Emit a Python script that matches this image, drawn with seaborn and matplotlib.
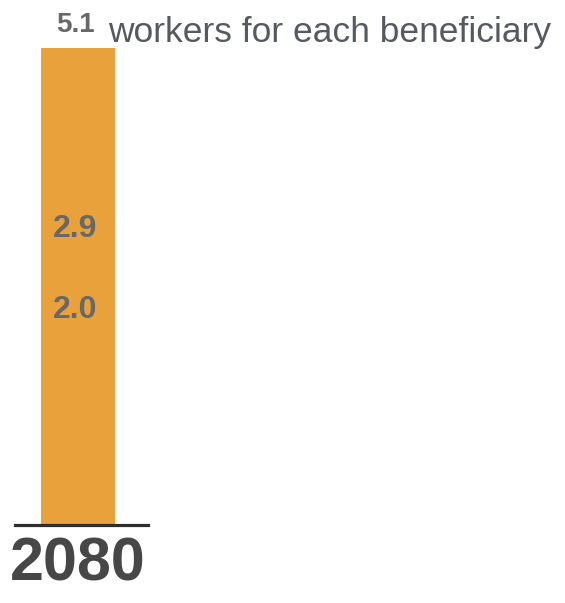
import matplotlib
matplotlib.use("Agg")
import matplotlib.pyplot as plt
import pandas as pd
import seaborn as sns

# workers per beneficiary, bars drawn on top of each other
years = ["1960", "2010", "2030"]
ratios = [5.1, 2.9, 2.0]
year_label = "2080"
caption = "workers for each beneficiary"

orange = "#E9A23B"

df = pd.DataFrame({"grp": ["all"] * len(years), "year": years, "ratio": ratios})

sns.set_style("white")
plt.rcParams['font.family'] = ['Liberation Sans', 'DejaVu Sans']

fig = plt.figure(figsize=(5.65, 6.03), dpi=100)
ax = fig.add_axes([15 / 565, 78 / 603, 133 / 565, 477 / 603])

sns.barplot(data=df, x="grp", y="ratio", hue="year", dodge=False,
            palette=[orange] * len(years), width=0.556, saturation=1,
            linewidth=0, legend=False, ax=ax)

ax.set_xlim(-0.475, 0.525)
ax.set_ylim(0, max(ratios))

# value labels just above each bar top
offsets = [7, 7, 9]
sizes = [20, 23, 23]
for r, off, fs in zip(ratios, offsets, sizes):
    ax.annotate(f"{r:.1f}", xy=(-0.02, r), xytext=(0, off), textcoords="offset points",
                ha="center", va="bottom", fontsize=fs, fontweight="bold",
                color="#686868", annotation_clip=False)

ax.annotate(caption, xy=(0.224, ratios[0]), xytext=(0, 4.5), textcoords="offset points",
            ha="left", va="baseline", fontsize=25.5, color="#555a60", annotation_clip=False)

sns.despine(ax=ax, left=True)
ax.spines["bottom"].set_color("#2e2e2e")
ax.spines["bottom"].set_linewidth(2.3)
ax.set_yticks([])
ax.set_xticks([0])
ax.set_xticklabels([year_label], fontsize=44, fontweight="bold", color="#474747")
ax.tick_params(axis="x", length=0, pad=8)
ax.set_xlabel("")
ax.set_ylabel("")

fig.savefig("out.png", dpi=100)
